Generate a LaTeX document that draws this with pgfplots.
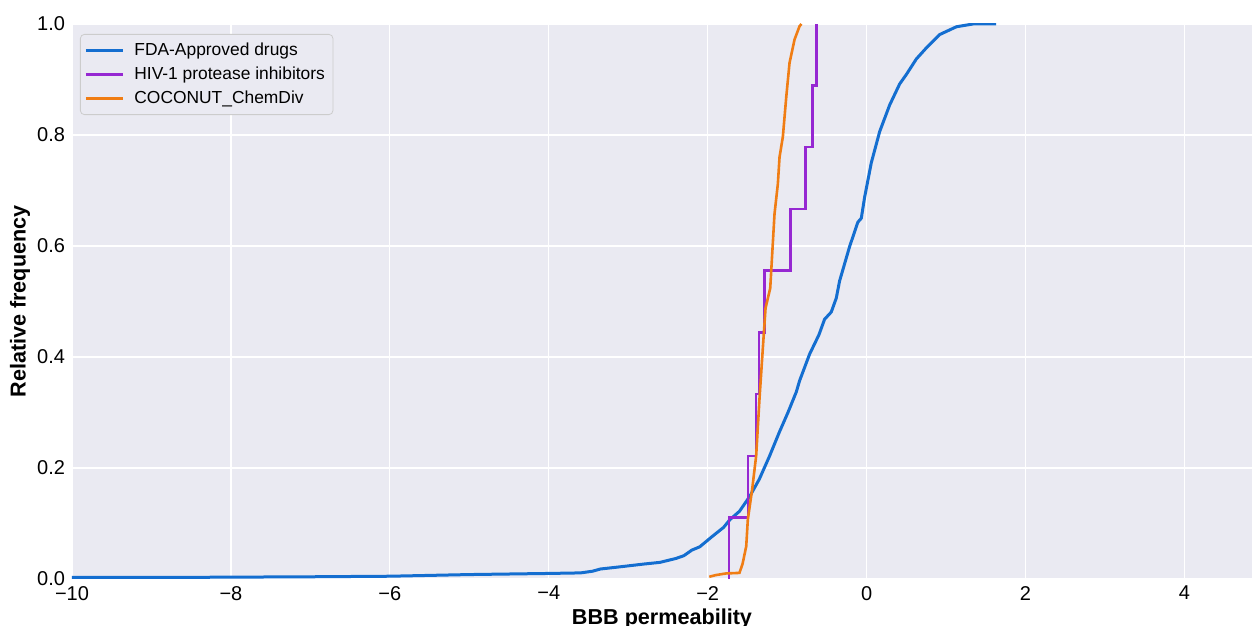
\documentclass[border=0pt]{standalone}
\usepackage{fontspec}
\setmainfont{Liberation Sans}
\usepackage{pgfplots}
\pgfplotsset{compat=1.18}
\definecolor{bg}{HTML}{EAEAF2}
\definecolor{cblue}{RGB}{20,110,208}
\definecolor{cpurple}{RGB}{150,40,210}
\definecolor{corange}{RGB}{240,125,20}
\begin{document}
\begin{tikzpicture}
\begin{axis}[
  name=ax,
  scale only axis, width=590pt, height=277.5pt,
  xmin=-10, xmax=4.85, ymin=0, ymax=1,
  axis background/.style={fill=bg},
  axis line style={draw=none},
  grid=major, major grid style={white, line width=0.65pt},
  tick style={draw=none},
  xtick={-10,-8,-6,-4,-2,0,2,4}, xticklabels={−10,−8,−6,−4,−2,0,2,4},
  ytick={0,0.2,0.4,0.6,0.8,1}, yticklabels={0.0,0.2,0.4,0.6,0.8,1.0},
  ticklabel style={font=\fontsize{10}{12}\selectfont},
  xlabel={BBB permeability}, ylabel={Relative frequency},
  label style={font=\bfseries\fontsize{10.8}{13}\selectfont},
  xlabel style={at={(axis description cs:0.5,0)}, anchor=base, yshift=-22.5pt},
  ylabel style={at={(axis description cs:-0.044,0.5)}, anchor=center},
  legend style={at={(axis description cs:0,1)}, anchor=north west, xshift=4pt, yshift=-5pt,
    fill=bg, draw=black!20, rounded corners=2pt, font=\fontsize{8.7}{10}\selectfont,
    inner xsep=2pt, inner ysep=2.2pt, nodes={inner ysep=2.05pt}},
  legend cell align=left,
  legend image code/.code={\draw[#1] (0pt,0pt) -- (18.5pt,0pt); \path (21.5pt,0pt);},
]
\addplot[cblue, line width=1.5pt] coordinates {
(-10,0.003) (-8.5,0.003) (-7,0.004) (-6,0.005) (-5,0.008) (-4,0.010) (-3.6,0.011)
(-3.45,0.014) (-3.35,0.018) (-3.1,0.022) (-2.8,0.027) (-2.6,0.030) (-2.4,0.037)
(-2.3,0.042) (-2.2,0.052) (-2.1,0.058) (-1.94,0.077) (-1.8,0.093) (-1.72,0.107)
(-1.6,0.122) (-1.47,0.149) (-1.35,0.18) (-1.22,0.222) (-1.1,0.264) (-0.99,0.30)
(-0.885,0.337) (-0.844,0.357) (-0.718,0.405) (-0.6,0.44) (-0.529,0.468) (-0.445,0.481)
(-0.382,0.506) (-0.34,0.537) (-0.214,0.599) (-0.11,0.643) (-0.067,0.65) (-0.025,0.688)
(0.059,0.75) (0.164,0.806) (0.29,0.854) (0.416,0.892) (0.5,0.909) (0.626,0.937)
(0.752,0.957) (0.92,0.981) (1.13,0.995) (1.34,1.0) (1.63,1.0)
};
\addlegendentry{FDA-Approved drugs}
\addplot[cpurple, line width=1.25pt, const plot] coordinates {
(-1.734,0) (-1.734,0.111) (-1.495,0.222) (-1.389,0.333) (-1.356,0.444) (-1.285,0.556)
(-0.957,0.667) (-0.768,0.778) (-0.684,0.889) (-0.633,1.0)
};
\addlegendentry{HIV-1 protease inhibitors}
\addplot[corange, line width=1.3pt] coordinates {
(-1.98,0.004) (-1.9,0.007) (-1.77,0.010) (-1.60,0.011) (-1.56,0.028) (-1.515,0.059)
(-1.495,0.107) (-1.44,0.162) (-1.39,0.222) (-1.348,0.325) (-1.306,0.416) (-1.272,0.488)
(-1.213,0.524) (-1.159,0.658) (-1.117,0.712) (-1.096,0.760) (-1.054,0.797) (-1.011,0.869)
(-0.97,0.93) (-0.907,0.972) (-0.844,0.996) (-0.82,1.0)
};
\addlegendentry{COCONUT\_ChemDiv}
\end{axis}
\pgfresetboundingbox
\path[use as bounding box] ([shift={(-36pt,-23.5pt)}]ax.south west) rectangle ([shift={(0pt,12pt)}]ax.north east);
\end{tikzpicture}
\end{document}
